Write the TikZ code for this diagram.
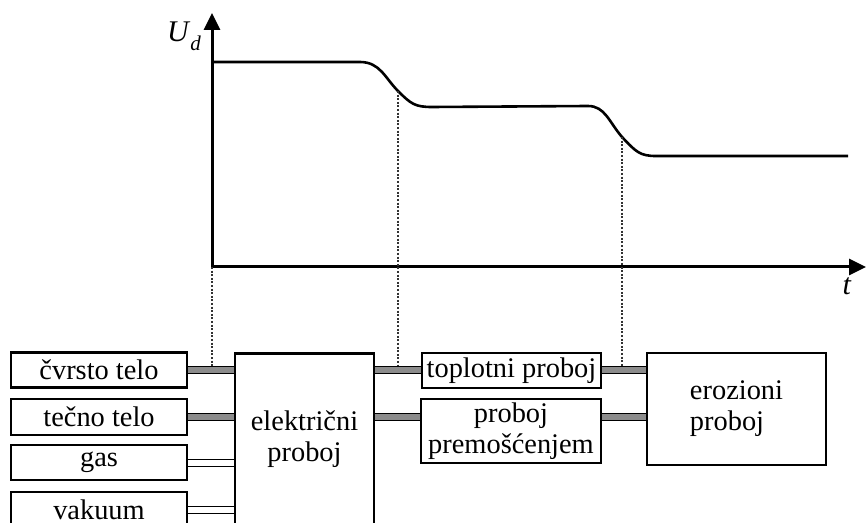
\documentclass[tikz,border=0pt]{standalone}
\usepackage{fontspec}
\setmainfont{Liberation Serif}
\usetikzlibrary{arrows.meta}
\definecolor{pipegray}{RGB}{140,140,140}
\tikzset{
  txt/.style={font=\fontsize{14.2pt}{15.5pt}\selectfont},
  blok/.style={txt,draw,line width=1.4pt,inner sep=0pt,align=center},
  pipe/.style={line width=0.5pt,double=pipegray,double distance=3pt},
  wpipe/.style={line width=0.5pt,double=white,double distance=3pt},
  osa/.style={line width=1.5pt,{Triangle[length=8.5pt,width=8pt]}-{Triangle[length=8.5pt,width=8pt]}},
  kriva/.style={line width=1.3pt},
  vodilja/.style={line width=0.6pt,dash pattern=on 1pt off 0.8pt,black!80}
}
\begin{document}
\begin{tikzpicture}[x=0.5pt,y=-0.5pt]
\useasboundingbox (0,0) rectangle (866,523);
\clip (0,0) rectangle (866,523);
% dijagram napona
\coordinate (o) at (212,267);
\draw[osa] (212,13) -- (o) -- (866,267);
\node[txt,anchor=base west] (ud) at (160,42) {\fontsize{15pt}{15pt}\selectfont\textit{U}\raisebox{-4.5pt}{\fontsize{10.5pt}{10pt}\selectfont\textit{d}}};
\node[txt,anchor=base] (t) at (847,295) {\fontsize{15pt}{15pt}\selectfont\textit{t}};
\coordinate (k1) at (398,91);
\coordinate (k2) at (622,137);
\draw[kriva] (212,62) -- (360,62) .. controls (380,62) and (385,78) .. (k1) .. controls (411,104) and (415,107) .. (432,107) -- (588,106) .. controls (605,106) and (609,122) .. (k2) .. controls (636,152) and (640,156) .. (656,156) -- (848,156);
% blokovi
\node[blok,minimum width=88pt,minimum height=17.5pt] (cvrsto) at (99,370) {čvrsto telo};
\node[blok,minimum width=88pt,minimum height=18pt] (tecno) at (99,417) {tečno telo};
\node[blok,minimum width=88pt,minimum height=17.5pt] (gas) at (99,462.5) {gas};
\node[blok,minimum width=88pt,minimum height=17.5pt] (vakuum) at (99,509.5) {vakuum};
\node[blok,minimum width=69.5pt,minimum height=86pt] (elek) at (304.5,439.5) {električni\\proboj};
\node[blok,minimum width=89.5pt,minimum height=17.5pt] (toplotni) at (511.5,370.5) {toplotni proboj};
\node[blok,minimum width=90pt,minimum height=32pt] (prem) at (511,431) {proboj\\premošćenjem};
\node[blok,minimum width=89.5pt,minimum height=56pt,align=left] (eroz) at (736.5,409) {erozioni\\proboj};
% vodilje
\draw[vodilja] (o) -- (o |- cvrsto.east);
\draw[vodilja] (k1) -- (k1 |- cvrsto.east);
\draw[vodilja] (k2) -- (k2 |- cvrsto.east);
% veze
\draw[pipe] (cvrsto.east) -- (cvrsto.east -| elek.west);
\draw[pipe] (tecno.east) -- (tecno.east -| elek.west);
\draw[wpipe] (gas.east) -- (gas.east -| elek.west);
\draw[wpipe] (vakuum.east) -- (vakuum.east -| elek.west);
\draw[pipe] (cvrsto.east -| elek.east) -- (cvrsto.east -| toplotni.west);
\draw[pipe] (tecno.east -| elek.east) -- (tecno.east -| prem.west);
\draw[pipe] (cvrsto.east -| toplotni.east) -- (cvrsto.east -| eroz.west);
\draw[pipe] (tecno.east -| prem.east) -- (tecno.east -| eroz.west);
\end{tikzpicture}
\end{document}
